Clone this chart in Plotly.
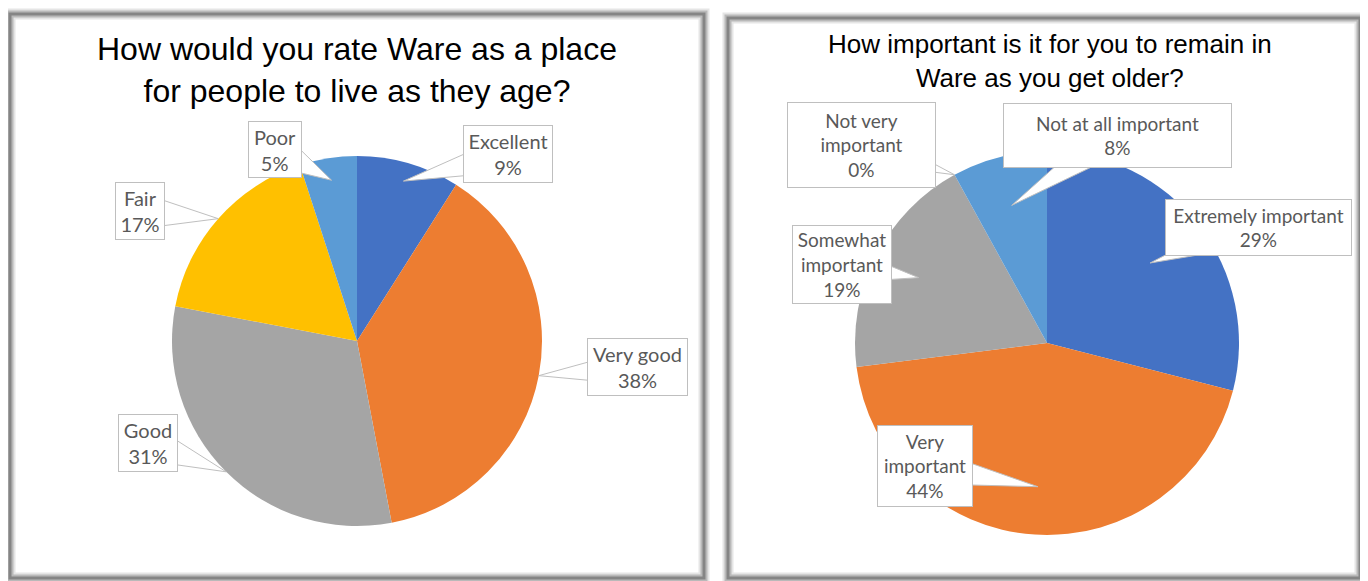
import math
import plotly.graph_objects as go

# page body adds an 8px margin, so the figure is drawn 8px smaller and shifted
OFF = 8
W, H = 1368 - OFF, 581 - OFF

# --- data ---
left_title = "How would you rate Ware as a place<br>for people to live as they age?"
left_labels = ["Excellent", "Very good", "Good", "Fair", "Poor"]
left_text = ["Excellent", "Very good", "Good", "Fair", "Poor"]
left_values = [9, 38, 31, 17, 5]

right_title = "How important is it for you to remain in<br>Ware as you get older?"
right_labels = ["Extremely important", "Very important", "Somewhat important",
                "Not very important", "Not at all important"]
right_text = ["Extremely important", "Very<br>important", "Somewhat<br>important",
              "Not very<br>important", "Not at all important"]
right_values = [29, 44, 19, 0, 8]

colors = ["#4472C4", "#ED7D31", "#A5A5A5", "#FFC000", "#5B9BD5"]


def fx(x):
    return (x - OFF) / W


def fy(y):
    return 1 - (y - OFF) / H


# pie geometry in screen pixels (center x, center y, radius)
left_pie = (357, 341, 185)
right_pie = (1047, 343, 192)

# callout boxes: center x, center y, width, height, tip radius fraction
left_boxes = [(508, 154, 90, 58, 0.9), (637, 367, 101, 58, 1.0), (148, 443, 60, 58, 1.0),
              (140, 211, 50, 58, 1.0), (275, 149, 54, 57, 0.88)]
right_boxes = [(1258, 227, 187, 57, 0.68), (925, 466, 96, 82, 0.75), (842, 265, 100, 79, 0.75),
               (861, 145, 149, 86, 1.0), (1117, 135, 229, 65, 0.74)]

fig = go.Figure()


def pie_trace(labels, values, geom):
    cx, cy, r = geom
    return go.Pie(
        labels=labels, values=values, sort=False, direction="clockwise", rotation=0,
        marker=dict(colors=colors, line=dict(width=0)), textinfo="none",
        showlegend=False, hoverinfo="label+percent",
        domain=dict(x=[fx(cx - r), fx(cx + r)], y=[fy(cy + r), fy(cy - r)]),
    )


fig.add_trace(pie_trace(left_labels, left_values, left_pie))
fig.add_trace(pie_trace(right_labels, right_values, right_pie))

shapes = []
annotations = []

# panel frames with a soft shadow
for x0, y0, x1, y1 in [(10, 14, 704, 578), (728, 18, 1360, 578)]:
    for w, c in [(11, "rgba(170,170,170,0.30)"), (7, "rgba(150,150,150,0.55)"), (3, "#858585")]:
        shapes.append(dict(type="rect", xref="paper", yref="paper",
                           x0=fx(x0), x1=fx(x1), y0=fy(y1), y1=fy(y0),
                           line=dict(color=c, width=w), fillcolor="rgba(0,0,0,0)", layer="below"))


def callouts(texts, values, geom, boxes, size):
    cx, cy, r = geom
    total = sum(values)
    cum = 0
    for txt, v, (bx, by, bw, bh, frac) in zip(texts, values, boxes):
        theta = 2 * math.pi * (cum + v / 2) / total
        cum += v
        tx = cx + frac * r * math.sin(theta)
        ty = cy - frac * r * math.cos(theta)
        dx, dy = tx - bx, ty - by
        d = math.hypot(dx, dy)
        nx, ny = -dy / d, dx / d
        hw = 18
        p1 = (bx + nx * hw, by + ny * hw)
        p2 = (bx - nx * hw, by - ny * hw)
        path = "M {} {} L {} {} L {} {} Z".format(fx(p1[0]), fy(p1[1]), fx(tx), fy(ty),
                                                 fx(p2[0]), fy(p2[1]))
        shapes.append(dict(type="path", xref="paper", yref="paper", path=path,
                           fillcolor="white", line=dict(color="#BFBFBF", width=1), layer="above"))
        annotations.append(dict(
            x=fx(bx), y=fy(by), xref="paper", yref="paper", xanchor="center", yanchor="middle",
            text="{}<br>{}%".format(txt, v), showarrow=False, align="center",
            width=bw - 2, height=bh - 2, borderpad=0, bgcolor="white",
            bordercolor="#BFBFBF", borderwidth=1,
            font=dict(family="Lato, Noto Sans, sans-serif", size=size, color="#595959"),
        ))


callouts(left_text, left_values, left_pie, left_boxes, 20)
callouts(right_text, right_values, right_pie, right_boxes, 19)

annotations.append(dict(x=fx(357), y=fy(70), xref="paper", yref="paper", xanchor="center",
                        yanchor="middle", text=left_title, showarrow=False,
                        font=dict(family="Liberation Sans, Arial, sans-serif", size=32, color="#000000")))
annotations.append(dict(x=fx(1050), y=fy(61), xref="paper", yref="paper", xanchor="center",
                        yanchor="middle", text=right_title, showarrow=False,
                        font=dict(family="Liberation Sans, Arial, sans-serif", size=26, color="#000000")))

fig.update_layout(
    width=W, height=H, margin=dict(l=0, r=0, t=0, b=0),
    paper_bgcolor="white", plot_bgcolor="white",
    shapes=shapes, annotations=annotations,
)

fig.write_html("out.html")
